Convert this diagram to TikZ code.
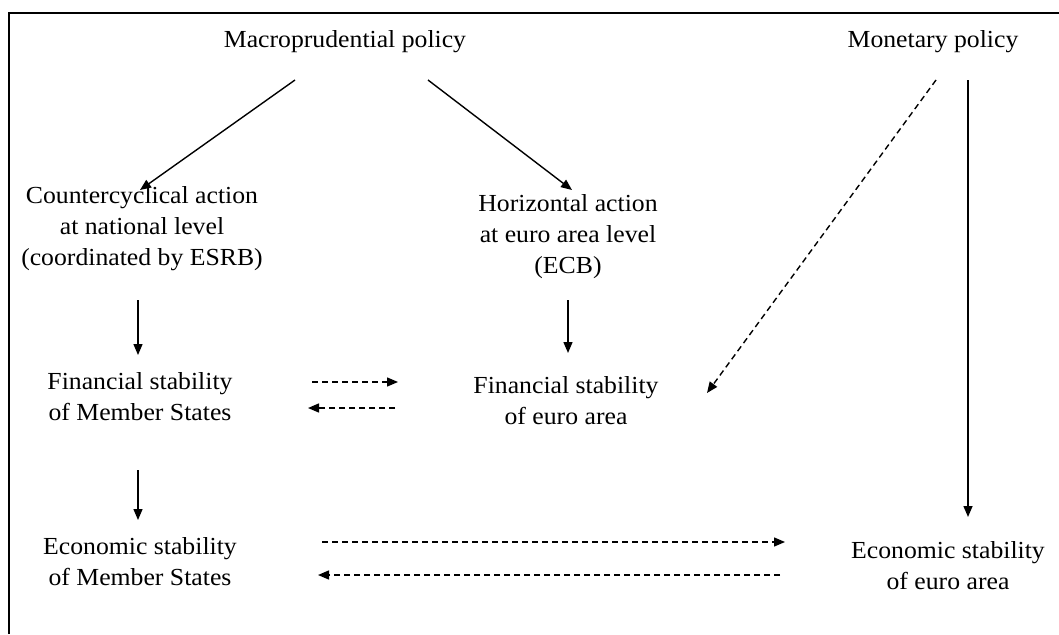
\documentclass[tikz,border=0pt]{standalone}
\usepackage{fontspec}
\setmainfont{Liberation Serif}[FakeStretch=1.05]
\usetikzlibrary{arrows.meta,calc}
\begin{document}
\begin{tikzpicture}[x=1pt,y=-1pt,
 lbl/.style={align=center,inner sep=0pt,font=\fontsize{24.5}{31}\selectfont},
 arr/.style={line width=1.4pt,-{Triangle[length=11pt,width=9pt]}},
 darr/.style={arr,dash pattern=on 6pt off 4pt}]
\useasboundingbox (0,0) rectangle (1059,634);
\draw[line width=2pt] (9,634) -- (9,13) -- (1059,13);
\node[lbl] (macro) at (345,42) {Macroprudential policy};
\node[lbl] (monet) at (933,42) {Monetary policy};
\node[lbl] (counter) at (142,229) {Countercyclical action\\at national level\\(coordinated by ESRB)};
\node[lbl] (horiz) at (568,237) {Horizontal action\\at euro area level\\(ECB)};
\node[lbl] (finms) at (140,397) {Financial stability\\of Member States};
\node[lbl] (finea) at (566,401) {Financial stability\\of euro area};
\node[lbl] (ecoms) at (140,562) {Economic stability\\of Member States};
\node[lbl] (ecoea) at (948,566) {Economic stability\\of euro area};
\draw[arr] ($(macro.center)+(-50,38)$) -- ($(counter.center)+(-2,-39)$);
\draw[arr] ($(macro.center)+(83,38)$) -- ($(horiz.center)+(4,-47)$);
\draw[arr] ($(counter.center)+(-4,71)$) -- ($(finms.center)+(-2,-42)$);
\draw[arr] ($(horiz.center)+(0,63)$) -- ($(finea.center)+(2,-48)$);
\draw[darr] ($(finms.center)+(172,-15)$) -- ($(finea.center)+(-168,-19)$);
\draw[darr] ($(finea.center)+(-171,7)$) -- ($(finms.center)+(168,11)$);
\draw[arr] ($(finms.center)+(-2,73)$) -- ($(ecoms.center)+(-2,-42)$);
\draw[darr] ($(monet.center)+(3,38)$) -- ($(finea.center)+(141,-8)$);
\draw[arr] ($(monet.center)+(35,38)$) -- ($(ecoea.center)+(20,-49)$);
\draw[darr] ($(ecoms.center)+(182,-20)$) -- ($(ecoea.center)+(-163,-24)$);
\draw[darr] ($(ecoea.center)+(-168,9)$) -- ($(ecoms.center)+(178,13)$);
\end{tikzpicture}
\end{document}
